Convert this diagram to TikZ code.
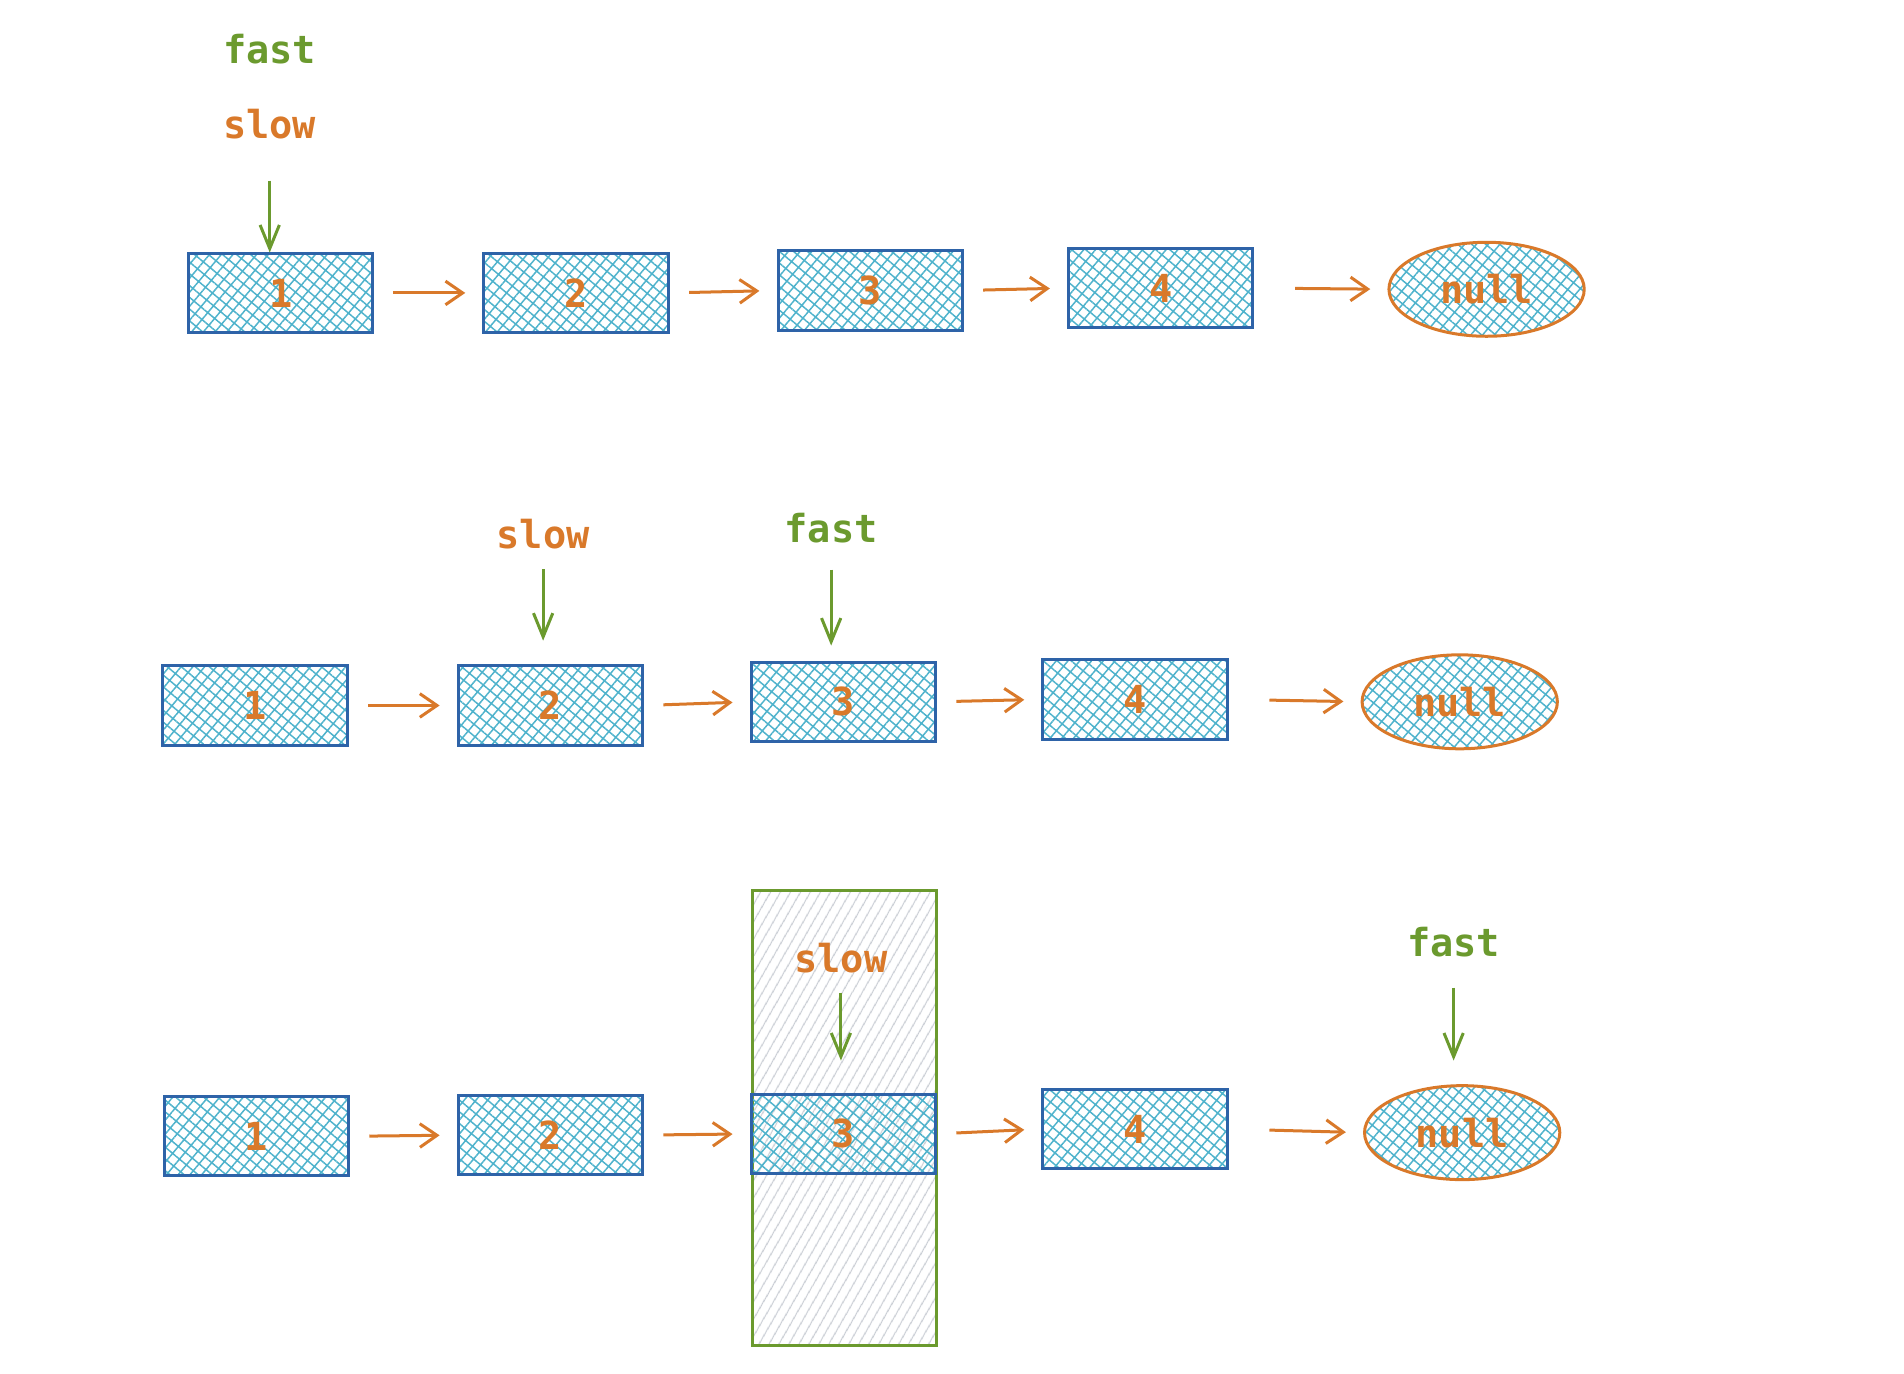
\documentclass[tikz,border=0pt]{standalone}
\usepackage{fontspec}
\setmonofont{DejaVu Sans Mono}
\usetikzlibrary{shapes.geometric,patterns.meta,arrows.meta}
\definecolor{lnkblue}{HTML}{2E63A8}
\definecolor{hatchcyan}{HTML}{4FB3CC}
\definecolor{ptrorange}{HTML}{D9792A}
\definecolor{ptrgreen}{HTML}{6B9A2E}
\definecolor{hlgray}{HTML}{C9CDD4}
\begin{document}
\begin{tikzpicture}[
        x=0.2mm, y=-0.2mm,
        txt/.style={font=\ttfamily\bfseries\fontsize{18}{20}\selectfont, inner sep=0pt},
        cell/.style={txt, draw=lnkblue, line width=1.4pt, text=ptrorange,
            pattern={Hatch[angle=50,distance=4.2pt,line width=0.7pt]}, pattern color=hatchcyan,
            minimum width=3.02cm, minimum height=1.3cm},
        nil/.style={cell, ellipse, draw=ptrorange, minimum width=3.2cm, minimum height=1.54cm},
        fastlbl/.style={txt, text=ptrgreen},
        slowlbl/.style={txt, text=ptrorange},
        nxt/.style={draw=ptrorange, line width=1.4pt, -{Straight Barb[length=8pt,width=11pt]},
            shorten <=9pt, shorten >=8pt},
        ptr/.style={draw=ptrgreen, line width=1.4pt, -{Straight Barb[length=11pt,width=9pt]}},
        hlbox/.style={draw=ptrgreen, line width=1.4pt,
            pattern={Lines[angle=60,distance=4pt,line width=0.6pt]}, pattern color=hlgray,
            minimum width=3.02cm, minimum height=7.44cm, inner sep=0pt}
    ]
    \useasboundingbox (0,0) rectangle (1560,1125);
    % first step
    \node[cell] (a1) at (230,240) {1};
    \node[cell] (a2) at (472,240) {2};
    \node[cell] (a3) at (713,238) {3};
    \node[cell] (a4) at (951,236) {4};
    \node[nil] (a5) at (1218,237) {null};
    \draw[nxt] (a1.east) -- (a2.west);
    \draw[nxt] (a2.east) -- (a3.west);
    \draw[nxt] (a3.east) -- (a4.west);
    \draw[nxt, shorten <=19pt] (a4.east) -- (a5.west);
    \node[fastlbl] (fa) at (221,40) {fast};
    \node[slowlbl] (sa) at (221,102) {slow};
    \draw[ptr, shorten <=19pt] (sa.south) -- (sa.south |- a1.north);
    % second step
    \node[cell] (b1) at (209,578) {1};
    \node[cell] (b2) at (451,578) {2};
    \node[cell] (b3) at (691,575) {3};
    \node[cell] (b4) at (930,573) {4};
    \node[nil] (b5) at (1196,575) {null};
    \draw[nxt] (b1.east) -- (b2.west);
    \draw[nxt] (b2.east) -- (b3.west);
    \draw[nxt] (b3.east) -- (b4.west);
    \draw[nxt, shorten <=19pt] (b4.east) -- (b5.west);
    \node[slowlbl] (sb) at (445,438) {slow};
    \node[fastlbl] (fb) at (681,433) {fast};
    \draw[ptr, shorten <=9pt, shorten >=11pt] (sb.south) -- (sb.south |- b2.north);
    \draw[ptr, shorten <=12pt, shorten >=7pt] (fb.south) -- (fb.south |- b3.north);
    % third step
    \node[hlbox] (hl) at (692,916) {};
    \node[cell] (c1) at (210,931) {1};
    \node[cell] (c2) at (451,930) {2};
    \node[cell] (c3) at (691,929) {3};
    \node[cell] (c4) at (930,925) {4};
    \node[nil] (c5) at (1198,928) {null};
    \draw[nxt] (c1.east) -- (c2.west);
    \draw[nxt] (c2.east) -- (c3.west);
    \draw[nxt] (c3.east) -- (c4.west);
    \draw[nxt, shorten <=19pt] (c4.east) -- (c5.west);
    \node[slowlbl] (sc) at (689,785) {slow};
    \node[fastlbl] (fc) at (1191,772) {fast};
    \draw[ptr, shorten <=9pt, shorten >=15pt] (sc.south) -- (sc.south |- c3.north);
    \draw[ptr, shorten <=14pt, shorten >=11pt] (fc.south) -- (fc.south |- c5.north);
\end{tikzpicture}
\end{document}
